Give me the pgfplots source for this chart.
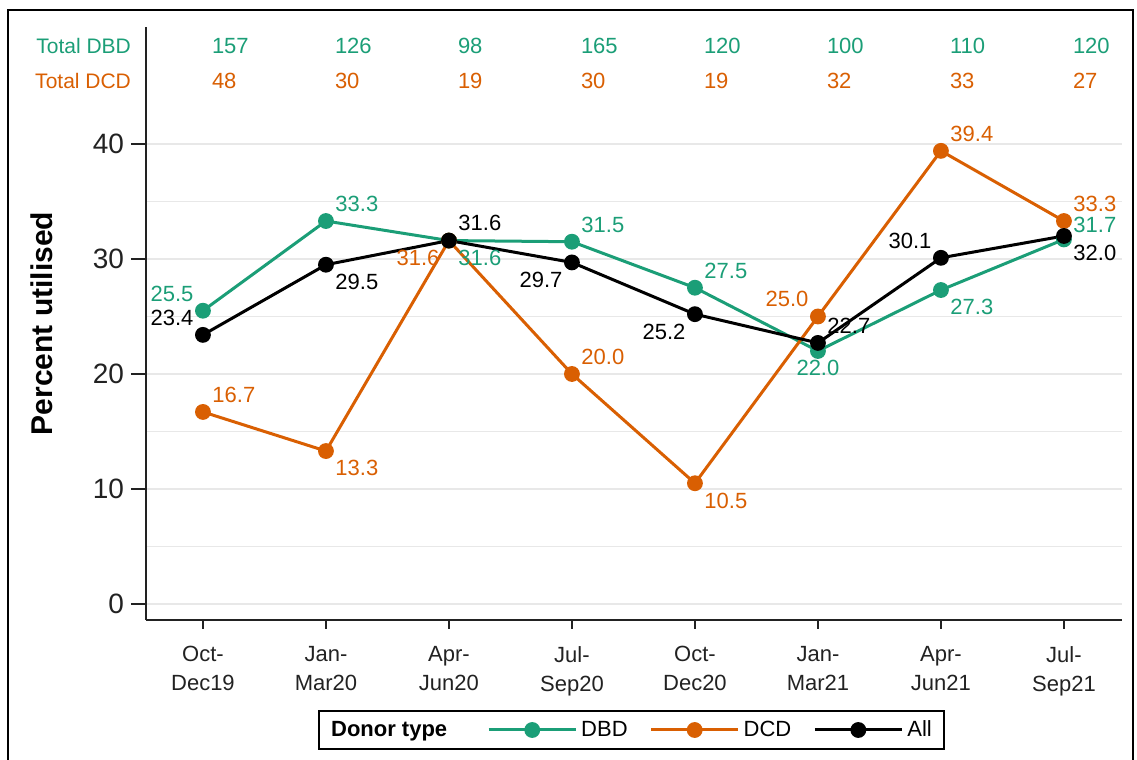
\documentclass[border=0pt]{standalone}
\usepackage{pgfplots}
\pgfplotsset{compat=1.18}
\usepackage{pgfplotstable}
\usepackage{fontspec}
\setmainfont{Liberation Sans}
\definecolor{dbd}{HTML}{1B9E77}
\definecolor{dcd}{HTML}{D95F02}
\definecolor{axc}{HTML}{222222}

\pgfplotstableread[col sep=comma]{
x,ya,tdbd,yb,tdcd
0,48.5,157,45.5,48
1,48.5,126,45.5,30
2,48.5,98,45.5,19
3,48.5,165,45.5,30
4,48.5,120,45.5,19
5,48.5,100,45.5,32
6,48.5,110,45.5,33
7,48.5,120,45.5,27
}\totals

\pgfplotsset{
  /pgf/number format/assume math mode=true,
  ser/.style={#1, line width=1.5pt, mark=*, mark size=3.2pt, mark options={fill=#1, draw=#1},
    nodes near coords, point meta=explicit symbolic,
    visualization depends on={value \thisrow{a}\as\myanchor},
    every node near coord/.append style={font=\fontsize{11}{13}\selectfont, text=#1, inner xsep=4pt, inner ysep=4pt, anchor=\myanchor},
  },
}

\begin{document}
\begin{tikzpicture}
\useasboundingbox (-73pt,-70pt) rectangle (495.5pt,310pt);
\draw[line width=1pt, black] (-69pt,-75pt) -- (-69pt,305pt) -- (493.5pt,305pt) -- (493.5pt,-75pt);
\begin{axis}[
  at={(0pt,0pt)}, anchor=south west,
  scale only axis, width=488pt, height=296.5pt,
  xmin=-0.463, xmax=7.472, ymin=-1.39, ymax=50.17,
  clip=false,
  axis x line*=bottom, axis y line*=left,
  axis line style={-, line width=1pt, axc},
  tick align=outside,
  major tick length=7.5pt,
  minor tick length=0pt,
  xtick={0,...,7},
  xticklabels={{Oct-\\Dec19},{Jan-\\Mar20},{Apr-\\Jun20},{Jul-\\Sep20},{Oct-\\Dec20},{Jan-\\Mar21},{Apr-\\Jun21},{Jul-\\Sep21}},
  xticklabel style={align=center, font=\fontsize{11}{14.5}\selectfont, text=axc, yshift=-2pt},
  xtick style={line width=1pt, axc, /pgfplots/major tick length=4.5pt},
  ytick={0,10,20,30,40},
  minor ytick={5,15,25,35},
  ytick style={line width=1pt, axc},
  yticklabel style={font=\fontsize{14}{16}\selectfont, text=axc},
  ymajorgrids, yminorgrids,
  major grid style={line width=0.8pt, black!9},
  minor grid style={line width=0.8pt, black!9},
  ylabel={Percent utilised},
  every axis y label/.style={at={(axis description cs:-0.1066,0.5)}, rotate=90, anchor=center},
  ylabel style={font=\bfseries\fontsize{15}{18}\selectfont},
  legend style={at={(axis description cs:0.4974,-0.1855)}, anchor=center, draw=black, line width=1pt,
    font=\fontsize{11}{13}\selectfont, inner xsep=4pt, inner ysep=3pt,
    /tikz/every even column/.append style={column sep=9pt}},
  legend columns=4,
  legend cell align=left,
  legend image code/.code={\draw[mark repeat=2,mark phase=2,#1] plot coordinates {(0pt,0pt) (21.75pt,0pt) (43.5pt,0pt)};},
]
\addlegendimage{empty legend}
\addlegendentry{\textbf{Donor type}\hspace*{9pt}}
\addlegendimage{dbd, line width=1.5pt, mark=*, mark size=3.2pt, mark options={fill=dbd, draw=dbd}}
\addlegendentry{DBD}
\addlegendimage{dcd, line width=1.5pt, mark=*, mark size=3.2pt, mark options={fill=dcd, draw=dcd}}
\addlegendentry{DCD}
\addlegendimage{black, line width=1.5pt, mark=*, mark size=3.2pt, mark options={fill=black, draw=black}}
\addlegendentry{All}

\addplot[ser=dbd, forget plot] table[col sep=comma, x=x, y=y, meta=l] {
x,y,l,a
0,25.5,25.5,south east
1,33.3,33.3,south west
2,31.6,31.6,north west
3,31.5,31.5,south west
4,27.5,27.5,south west
5,22.0,22.0,north
6,27.3,27.3,north west
7,31.7,31.7,205
};

\addplot[ser=dcd, forget plot] table[col sep=comma, x=x, y=y, meta=l] {
x,y,l,a
0,16.7,16.7,south west
1,13.3,13.3,north west
2,31.6,31.6,north east
3,20.0,20.0,south west
4,10.5,10.5,north west
5,25.0,25.0,south east
6,39.4,39.4,south west
7,33.3,33.3,south west
};

\addplot[ser=black, forget plot] table[col sep=comma, x=x, y=y, meta=l] {
x,y,l,a
0,23.4,23.4,south east
1,29.5,29.5,north west
2,31.6,31.6,south west
3,29.7,29.7,north east
4,25.2,25.2,north east
5,22.7,22.7,south west
6,30.1,30.1,south east
7,32.0,32.0,north west
};

\addplot[draw=none, mark=none, forget plot, nodes near coords, point meta=explicit symbolic,
  every node near coord/.append style={anchor=west, text=dbd, font=\fontsize{11}{13}\selectfont, xshift=1pt}]
  table[x=x, y=ya, meta=tdbd] {\totals};
\addplot[draw=none, mark=none, forget plot, nodes near coords, point meta=explicit symbolic,
  every node near coord/.append style={anchor=west, text=dcd, font=\fontsize{11}{13}\selectfont, xshift=1pt}]
  table[x=x, y=yb, meta=tdcd] {\totals};

\node[anchor=east, text=dbd, font=\fontsize{10.5}{12}\selectfont, xshift=-4pt] at (axis cs:-0.463,48.5) {Total DBD};
\node[anchor=east, text=dcd, font=\fontsize{10.5}{12}\selectfont, xshift=-4pt] at (axis cs:-0.463,45.5) {Total DCD};
\end{axis}
\end{tikzpicture}
\end{document}
